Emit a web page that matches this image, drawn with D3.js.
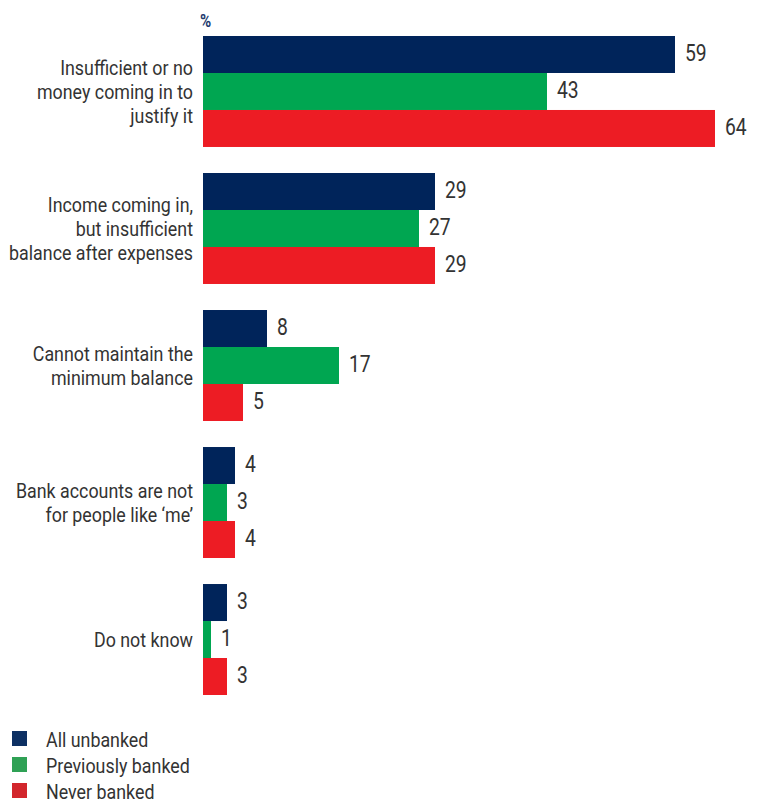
<!DOCTYPE html>
<html>
<head>
<meta charset="utf-8">
<script src="https://cdn.jsdelivr.net/npm/d3@7"></script>
<style>
  body { margin: 0; background: #fff; }
  svg { display: block; }
  text { font-family: "Roboto", "Liberation Sans", sans-serif; }
</style>
</head>
<body>
<svg id="chart" width="766" height="803"></svg>
<script>
const categories = [
  ["Insufficient or no", "money coming in to", "justify it"],
  ["Income coming in,", "but insufficient", "balance after expenses"],
  ["Cannot maintain the", "minimum balance"],
  ["Bank accounts are not", "for people like \u2018me\u2019"],
  ["Do not know"]
];
const seriesNames = ["All unbanked", "Previously banked", "Never banked"];
const allUnbanked = [59, 29, 8, 4, 3];
const previouslyBanked = [43, 27, 17, 3, 1];
const neverBanked = [64, 29, 5, 4, 3];
const colors = ["#00245a", "#00a651", "#ed1c24"];
const legendColors = ["#0d3063", "#2fa155", "#d2262c"];

const seriesValues = [allUnbanked, previouslyBanked, neverBanked];
const svg = d3.select("#chart");
const x0 = 203;
const x = d3.scaleLinear().domain([0, 64]).range([x0, 715]);
const catIdx = d3.range(categories.length);
const y = d3.scaleBand().domain(catIdx).range([36, 695]).paddingInner(0.19).paddingOuter(0);
const ySub = d3.scaleBand().domain(d3.range(3)).range([0, y.bandwidth()]);
const SX = 0.85;

function condensed(parent, tx, sx) {
  return parent.append("g").attr("transform", `translate(${tx},0) scale(${sx},1)`);
}

condensed(svg, 200, 0.8).append("text").attr("x", 0).attr("y", 27).attr("fill", "#1d3a6e")
  .attr("font-weight", "bold").attr("font-size", 19).text("%");

const g = svg.append("g");
catIdx.forEach(i => {
  seriesValues.forEach((vals, s) => {
    const v = vals[i];
    const yy = y(i) + ySub(s);
    g.append("rect").attr("x", x(0)).attr("y", yy)
      .attr("width", x(v) - x(0)).attr("height", ySub.bandwidth())
      .attr("fill", colors[s]);
    condensed(g, x(v) + 10, 0.84).append("text").attr("x", 0).attr("y", yy + ySub.bandwidth() / 2 - 2)
      .attr("dy", "0.36em").attr("font-size", 23).attr("fill", "#333")
      .text(v);
  });
  const lines = categories[i];
  const cy = y(i) + y.bandwidth() / 2;
  const lh = 24;
  const t = condensed(g, 193, SX).append("text").attr("text-anchor", "end")
    .attr("font-size", 21).attr("fill", "#333");
  lines.forEach((ln, k) => {
    t.append("tspan").attr("x", 0)
      .attr("y", cy + (k - (lines.length - 1) / 2) * lh)
      .attr("dy", "0.36em").text(ln);
  });
});

const leg = svg.append("g");
seriesNames.forEach((n, s) => {
  const ly = 739 + s * 26;
  leg.append("rect").attr("x", 12).attr("y", ly - 8).attr("width", 15).attr("height", 15)
    .attr("fill", legendColors[s]);
  condensed(leg, 46, SX).append("text").attr("x", 0).attr("y", ly).attr("dy", "0.36em")
    .attr("font-size", 21).attr("fill", "#333").text(n);
});
</script>
</body>
</html>
